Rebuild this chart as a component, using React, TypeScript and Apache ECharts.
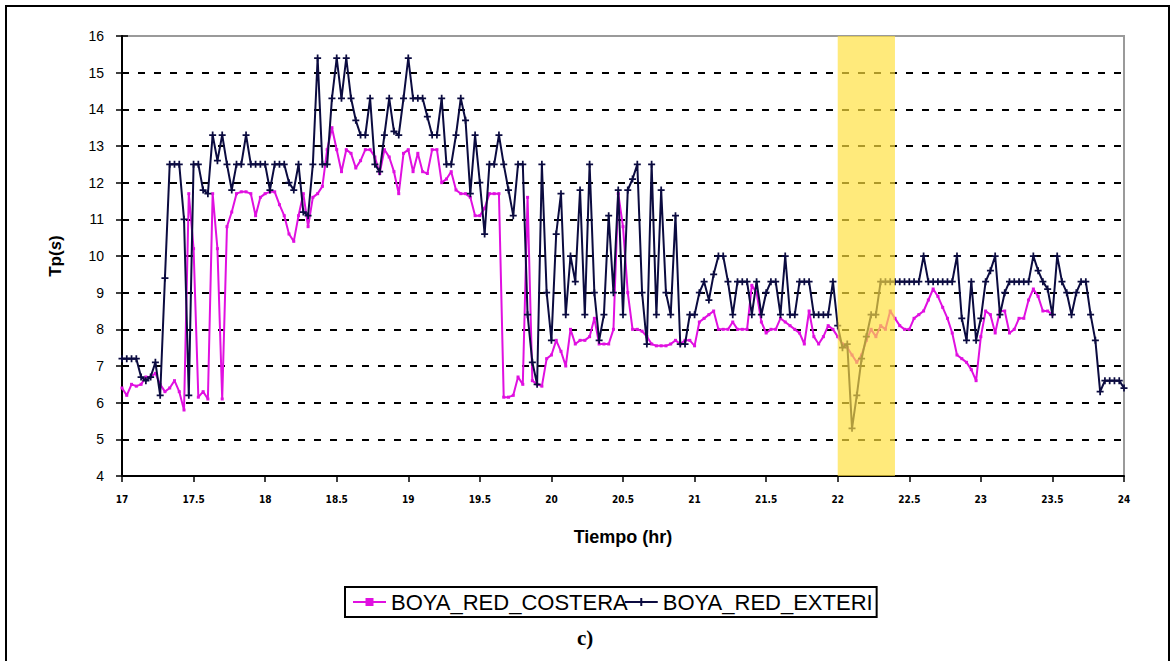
import React, { useEffect, useRef } from "react";
import * as echarts from "echarts";

// Sampling of the record: one value every 2 minutes starting at 17 h
const START_HOUR = 17;
const STEP_HOURS = 1 / 30;

const xTickLabels = ["17", "17.5", "18", "18.5", "19", "19.5", "20", "20.5", "21", "21.5", "22", "22.5", "23", "23.5", "24"];
const yTickLabels = ["4", "5", "6", "7", "8", "9", "10", "11", "12", "13", "14", "15", "16"];

const seriesNames = ["BOYA_RED_COSTERA", "BOYA_RED_EXTERIOR"];

// Tp (s) of the coastal buoy
const costera = [
  6.4, 6.2, 6.5, 6.45, 6.5, 6.7, 6.7, 6.8, 6.5, 6.3, 6.4, 6.6, 6.3, 5.8, 11.7,
  10.2, 6.15, 6.3, 6.1, 11.7, 10.2, 6.1, 10.8, 11.2, 11.7, 11.75, 11.75, 11.7, 11.1, 11.6,
  11.7, 11.75, 11.75, 11.4, 11.1, 10.6, 10.4, 11.1, 11.7, 10.8, 11.6, 11.7, 11.9, 12.9, 13.5,
  12.9, 12.3, 12.9, 12.8, 12.4, 12.6, 12.9, 12.9, 12.7, 12.25, 12.9, 12.7, 12.3, 11.7, 12.8,
  12.9, 12.3, 12.8, 12.3, 12.25, 12.9, 12.9, 12.0, 12.1, 12.3, 11.8, 11.7, 11.7, 11.6, 11.1,
  11.1, 11.3, 11.7, 11.7, 11.7, 6.15, 6.15, 6.2, 6.7, 6.5, 11.6, 6.6, 6.5, 6.45, 7.2,
  7.3, 7.7, 7.4, 7.0, 8.0, 7.6, 7.7, 7.7, 7.8, 8.3, 7.6, 7.6, 7.6, 8.0, 11.7,
  10.8, 9.0, 8.0, 8.0, 7.95, 7.8, 7.6, 7.55, 7.55, 7.55, 7.6, 7.7, 7.6, 7.7, 7.7,
  7.55, 8.2, 8.3, 8.4, 8.5, 8.0, 8.0, 8.0, 8.2, 8.0, 8.0, 8.0, 9.2, 9.0, 8.2,
  7.9, 8.0, 8.0, 8.3, 8.2, 8.1, 8.0, 7.9, 7.6, 8.5, 7.8, 7.6, 7.8, 8.1, 8.0,
  7.8, 7.6, 7.5, 7.3, 7.1, 7.3, 7.7, 8.0, 7.8, 8.1, 8.0, 8.5, 8.3, 8.1, 8.0,
  8.0, 8.3, 8.4, 8.5, 8.8, 9.1, 8.9, 8.6, 8.3, 7.9, 7.3, 7.2, 7.1, 6.9, 6.6,
  7.8, 8.5, 8.4, 7.9, 8.5, 8.5, 7.9, 8.0, 8.3, 8.3, 8.8, 9.1, 8.9, 8.5, 8.5,
  8.4,
];

// Tp (s) of the offshore buoy
const exterior = [
  7.2, 7.2, 7.2, 7.2, 6.7, 6.6, 6.7, 7.1, 6.2, 9.4, 12.5, 12.5, 12.5, 11.0, 6.2,
  12.5, 12.5, 11.8, 11.7, 13.3, 12.6, 13.3, 12.5, 11.8, 12.5, 12.5, 13.3, 12.5, 12.5, 12.5,
  12.5, 11.8, 12.5, 12.5, 12.5, 12.0, 11.8, 12.5, 11.2, 11.1, 12.5, 15.4, 12.5, 12.5, 14.3,
  15.4, 14.3, 15.4, 14.3, 13.7, 13.3, 13.3, 14.3, 12.5, 12.3, 13.3, 14.3, 13.4, 13.3, 14.3,
  15.4, 14.3, 14.3, 14.3, 13.8, 13.3, 13.3, 14.3, 12.5, 12.5, 13.3, 14.3, 13.7, 11.7, 13.3,
  12.0, 10.6, 12.5, 12.5, 13.3, 12.5, 11.8, 11.1, 12.5, 12.5, 8.4, 7.1, 6.5, 12.5, 9.0,
  7.7, 10.6, 11.7, 8.4, 10.0, 9.3, 11.8, 8.4, 12.5, 9.0, 7.7, 8.4, 11.1, 9.0, 11.8,
  8.4, 11.8, 12.1, 12.5, 9.0, 7.6, 12.5, 8.4, 11.8, 9.0, 8.4, 11.1, 7.6, 7.6, 8.4,
  8.4, 9.0, 9.3, 8.8, 9.5, 10.0, 10.0, 9.3, 8.4, 9.3, 9.3, 9.3, 8.4, 9.3, 8.4,
  9.0, 9.3, 9.3, 8.4, 10.0, 8.4, 8.4, 9.3, 9.3, 9.3, 8.4, 8.4, 8.4, 8.4, 9.3,
  8.1, 7.5, 7.6, 5.3, 6.2, 7.2, 7.8, 8.4, 8.4, 9.3, 9.3, 9.3, 9.3, 9.3, 9.3,
  9.3, 9.3, 9.3, 10.0, 9.3, 9.3, 9.3, 9.3, 9.3, 9.3, 10.0, 8.3, 7.7, 9.3, 7.7,
  8.3, 9.3, 9.6, 10.0, 8.4, 9.0, 9.3, 9.3, 9.3, 9.3, 9.3, 10.0, 9.6, 9.3, 9.1,
  8.4, 10.0, 9.3, 9.0, 8.4, 9.0, 9.3, 9.3, 8.4, 7.7, 6.3, 6.6, 6.6, 6.6, 6.6,
  6.4,
];

// Highlighted period (hours)
const bandStart = 22.0;
const bandEnd = 22.4;

const PLUS = "path://M3,0H5V3H8V5H5V8H3V5H0V3H3Z";
const SANS = '"Liberation Sans", Arial, sans-serif';

export default function App() {
  const ref = useRef<HTMLDivElement>(null);

  useEffect(() => {
    document.body.style.margin = "0";
    const chart = echarts.init(ref.current as HTMLDivElement, null, { renderer: "svg" });
    const toPairs = (vals: number[]) =>
      vals.map((v, i) => [Math.round((START_HOUR + i * STEP_HOURS) * 10000) / 10000, v]);

    const option: any = {
      animation: false,
      backgroundColor: "#ffffff",
      grid: {
        left: 122,
        top: 36,
        right: 49,
        bottom: 185,
        show: true,
        borderColor: "#9a9a9a",
        borderWidth: 2,
        backgroundColor: "transparent",
      },
      xAxis: {
        type: "value",
        min: 17,
        max: 24,
        interval: 0.5,
        name: "Tiempo (hr)",
        nameLocation: "middle",
        nameGap: 52,
        nameTextStyle: { fontFamily: SANS, fontSize: 18, fontWeight: "bold", color: "#000" },
        axisLine: { show: true, onZero: false, lineStyle: { color: "#000", width: 2 } },
        axisTick: { show: true, length: 6, lineStyle: { color: "#000", width: 1.5 } },
        axisLabel: {
          fontFamily: '"Liberation Sans Narrow", "DejaVu Sans Condensed", ' + SANS,
          fontSize: 10,
          fontWeight: "bold",
          color: "#000",
          margin: 18,
          formatter: (v: number) => {
            const idx = Math.round((v - 17) / 0.5);
            return xTickLabels[idx] ?? String(v);
          },
        },
        splitLine: { show: false },
      },
      yAxis: [
        {
          type: "value",
          min: 4,
          max: 16,
          interval: 1,
          name: "Tp({i|s})",
          nameLocation: "middle",
          nameGap: 58,
          nameRotate: 90,
          nameTextStyle: {
            fontFamily: SANS,
            fontSize: 17,
            fontWeight: "bold",
            color: "#000",
            rich: { i: { fontFamily: SANS, fontSize: 17, fontWeight: "bold", fontStyle: "italic", color: "#000" } },
          },
          axisLine: { show: true, onZero: false, lineStyle: { color: "#000", width: 2 } },
          axisTick: { show: true, length: 6, lineStyle: { color: "#000", width: 1.5 } },
          axisLabel: {
            fontFamily: SANS,
            fontSize: 14,
            color: "#000",
            margin: 18,
            formatter: (v: number) => yTickLabels[Math.round(v - 4)] ?? String(v),
          },
          splitLine: {
            show: true,
            showMinLine: false,
            showMaxLine: false,
            lineStyle: { color: "#000", width: 2, type: [7, 9] },
          },
        },
        {
          type: "value",
          min: 4,
          max: 16,
          interval: 1,
          position: "left",
          axisLine: { show: false },
          axisTick: { show: true, inside: true, length: 6, lineStyle: { color: "#000", width: 1.5 } },
          axisLabel: { show: false },
          splitLine: { show: false },
        },
      ],
      legend: {
        left: 345,
        top: 587,
        orient: "horizontal",
        padding: [4, 4, 4, 7],
        itemGap: -4,
        itemWidth: 33,
        itemHeight: 10,
        borderColor: "#000",
        borderWidth: 2,
        backgroundColor: "#fff",
        selectedMode: false,
        textStyle: { fontFamily: SANS, fontSize: 22, color: "#000" },
        data: [
          { name: seriesNames[0] },
          { name: seriesNames[1], textStyle: { width: 217, overflow: "truncate", ellipsis: "" } },
        ],
      },
      graphic: [
        {
          type: "rect",
          silent: true,
          z: -10,
          shape: { x: 6, y: 6, width: 1163, height: 700 },
          style: { fill: "none", stroke: "#000", lineWidth: 2 },
        },
        {
          type: "text",
          left: 577,
          top: 627,
          style: { text: "c)", font: 'bold 21px "Liberation Serif", "Times New Roman", serif', fill: "#000" },
        },
      ],
      series: [
        {
          name: seriesNames[0],
          type: "line",
          data: toPairs(costera),
          yAxisIndex: 0,
          z: 3,
          symbol: "rect",
          symbolSize: 3,
          showSymbol: true,
          itemStyle: { color: "#e010e0" },
          lineStyle: { color: "#e010e0", width: 2 },
        },
        {
          name: seriesNames[1],
          type: "line",
          data: toPairs(exterior),
          yAxisIndex: 0,
          z: 4,
          symbol: PLUS,
          symbolSize: 7,
          showSymbol: true,
          itemStyle: { color: "#0b0b40" },
          lineStyle: { color: "#0b0b40", width: 2 },
        },
        {
          name: "band",
          type: "line",
          data: [],
          yAxisIndex: 0,
          z: 10,
          silent: true,
          markArea: {
            silent: true,
            z: 20,
            itemStyle: { color: "rgba(255, 224, 60, 0.68)" },
            data: [[{ xAxis: bandStart }, { xAxis: bandEnd }]],
          },
        },
      ],
    };

    chart.setOption(option);
    return () => chart.dispose();
  }, []);

  return (
    <div
      ref={ref}
      style={{ position: "absolute", left: 0, top: 0, width: 1173, height: 661, background: "#fff" }}
    />
  );
}
